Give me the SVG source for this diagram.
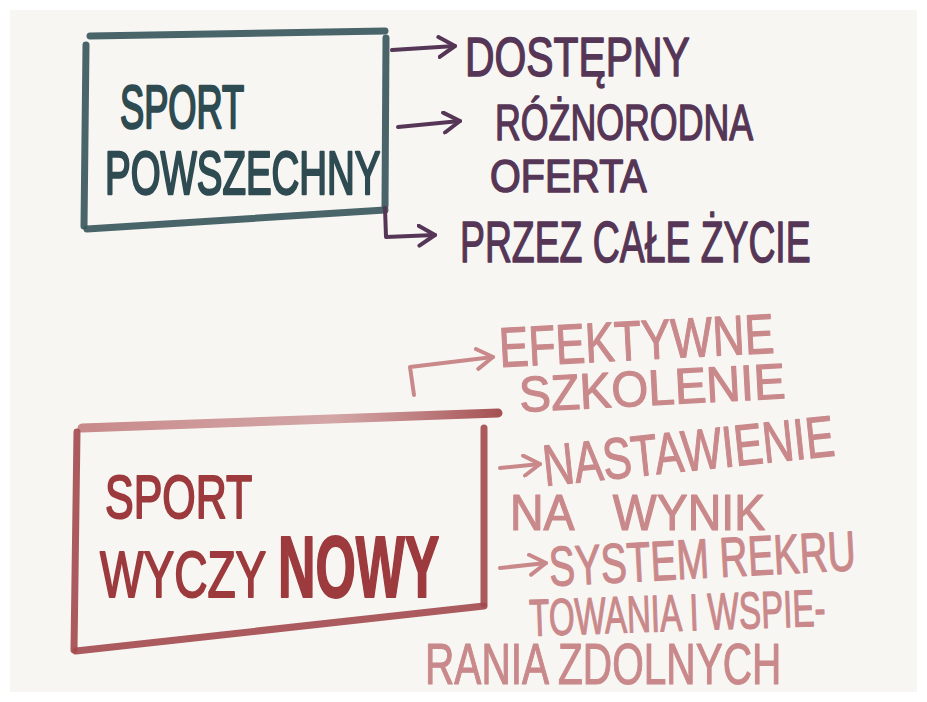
<svg xmlns="http://www.w3.org/2000/svg" width="927" height="702" viewBox="0 0 927 702">
<style>
.t{font-family:"Liberation Sans","DejaVu Sans",sans-serif;stroke-linejoin:round;}
.teal{fill:#2f4b52;stroke:#2f4b52;stroke-width:2.5;}
.purple{fill:#563656;stroke:#563656;stroke-width:1.5;}
.red{fill:#9c3a3d;stroke:#9c3a3d;stroke-width:2;}
.pink{fill:#c9898b;stroke:#c9898b;stroke-width:1.2;}
.boxT{fill:none;stroke:#3a585d;stroke-width:7;stroke-linecap:round;stroke-linejoin:round;opacity:0.92}
.boxR{fill:none;stroke:#a24a4c;stroke-width:7;stroke-linecap:round;stroke-linejoin:round;opacity:0.9}
.arP{fill:none;stroke:#563656;stroke-width:4;stroke-linecap:round;stroke-linejoin:round}
.arK{fill:none;stroke:#c9898b;stroke-width:4;stroke-linecap:round;stroke-linejoin:round}
</style>
<defs>
<marker id="hP" viewBox="0 0 20 24" refX="18" refY="12" markerWidth="20" markerHeight="24" markerUnits="userSpaceOnUse" orient="auto">
<path d="M2,2 L18,12 L2,22" fill="none" stroke="#563656" stroke-width="4" stroke-linecap="round" stroke-linejoin="round"/>
</marker>
<marker id="hK" viewBox="0 0 20 24" refX="18" refY="12" markerWidth="20" markerHeight="24" markerUnits="userSpaceOnUse" orient="auto">
<path d="M2,2 L18,12 L2,22" fill="none" stroke="#c9898b" stroke-width="4" stroke-linecap="round" stroke-linejoin="round"/>
</marker>
<linearGradient id="fade" x1="0" y1="0" x2="1" y2="0">
<stop offset="0" stop-color="#b86668" stop-opacity="0.75"/>
<stop offset="0.6" stop-color="#c48486" stop-opacity="0.7"/>
<stop offset="1" stop-color="#a24a4c" stop-opacity="0.95"/>
</linearGradient>
</defs>
<rect width="927" height="702" fill="#ffffff"/>
<rect x="10" y="10" width="907" height="682" fill="#f8f6f3"/>

<g id="node-sport-powszechny">
<path class="boxT" d="M90,36 L385,31"/>
<path class="boxT" d="M86,45 L84,226"/>
<path class="boxT" d="M87,229 L385,210"/>
<path class="boxT" d="M386,38 L385,206"/>
<text class="t teal" font-size="62" transform="translate(120 128) scale(0.585 1)">SPORT</text>
<text class="t teal" font-size="62" transform="translate(105 194) scale(0.62 1)">POWSZECHNY</text>
</g>

<g id="node-dostepny">
<text class="t purple" font-size="56" transform="translate(465 76) scale(0.73 1)">DOSTĘPNY</text>
</g>
<g id="node-roznorodna-oferta">
<text class="t purple" font-size="50" transform="translate(495 140) scale(0.715 1)">RÓŻNORODNA</text>
<text class="t purple" font-size="46" transform="translate(490 192) scale(0.86 1)">OFERTA</text>
</g>
<g id="node-przez-cale-zycie">
<text class="t purple" font-size="58" transform="translate(460 262) scale(0.644 1)">PRZEZ CAŁE ŻYCIE</text>
</g>

<g id="node-sport-wyczynowy">
<path d="M82,428 L498,413" fill="none" stroke="url(#fade)" stroke-width="9" stroke-linecap="round"/>
<path class="boxR" d="M77,432 L74,650"/>
<path class="boxR" d="M76,651 L484,606"/>
<path class="boxR" d="M484,428 L484,604"/>
<text class="t red" font-size="62" transform="translate(105 518) scale(0.693 1)">SPORT</text>
<text class="t red" font-size="64" transform="translate(100 597) scale(0.72 1)">WYCZY</text>
<text class="t red" font-size="88" font-weight="bold" transform="translate(278 597) scale(0.59 1)">NOWY</text>
</g>

<g id="node-efektywne-szkolenie">
<text class="t pink" font-size="56" transform="translate(500 367) rotate(-3) scale(0.79 1)">EFEKTYWNE</text>
<text class="t pink" font-size="50" transform="translate(520 412) rotate(-3) scale(0.95 1)">SZKOLENIE</text>
</g>
<g id="node-nastawienie-na-wynik">
<text class="t pink" font-size="58" transform="translate(545 486) rotate(-6) scale(0.745 1)">NASTAWIENIE</text>
<text class="t pink" font-size="50" word-spacing="30" transform="translate(510 530) scale(0.93 1)">NA WYNIK</text>
</g>
<g id="node-system-rekrutowania">
<text class="t pink" font-size="56" transform="translate(550 586) rotate(-3) scale(0.695 1)">SYSTEM REKRU</text>
<text class="t pink" font-size="52" transform="translate(530 636) rotate(-2) scale(0.637 1)">TOWANIA I WSPIE-</text>
<text class="t pink" font-size="58" transform="translate(425 684) scale(0.70 1)">RANIA ZDOLNYCH</text>
</g>

<g id="connectors">
<path class="arP" d="M392,50 L455,46" marker-end="url(#hP)"/>
<path class="arP" d="M398,127 L460,121" marker-end="url(#hP)"/>
<path class="arP" d="M385,208 L386,237 L435,235" marker-end="url(#hP)"/>
<path class="arK" d="M414,395 L410,367 L493,357" marker-end="url(#hK)"/>
<path class="arK" d="M500,468 L540,464" marker-end="url(#hK)"/>
<path class="arK" d="M500,568 L546,563" marker-end="url(#hK)"/>
</g>
</svg>
